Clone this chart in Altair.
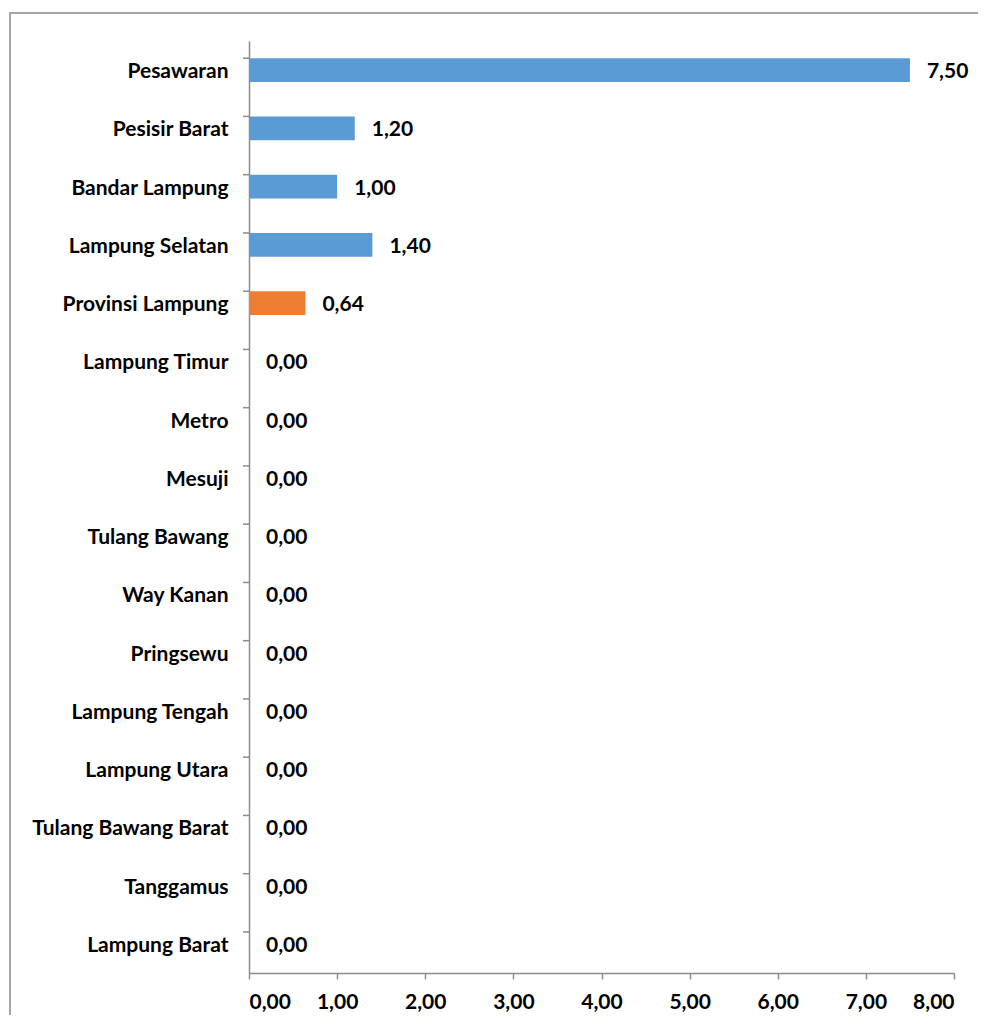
import altair as alt
import pandas as pd

categories = ["Pesawaran", "Pesisir Barat", "Bandar Lampung", "Lampung Selatan",
              "Provinsi Lampung", "Lampung Timur", "Metro", "Mesuji", "Tulang Bawang",
              "Way Kanan", "Pringsewu", "Lampung Tengah", "Lampung Utara",
              "Tulang Bawang Barat", "Tanggamus", "Lampung Barat"]
values = [7.50, 1.20, 1.00, 1.40, 0.64, 0.00, 0.00, 0.00, 0.00, 0.00, 0.00, 0.00,
          0.00, 0.00, 0.00, 0.00]
groups = ["kab", "kab", "kab", "kab", "prov"] + ["kab"] * 11

df = pd.DataFrame({"cat": categories, "val": values, "grp": groups})
df["lbl"] = df["val"].map(lambda v: f"{v:.2f}".replace(".", ","))

FONT = "Lato"
FS = 21
GRAY = "#8c8c8c"

y_enc = alt.Y("cat:N", sort=categories, title=None,
              scale=alt.Scale(paddingInner=0.59, paddingOuter=0.295),
              axis=alt.Axis(ticks=False, labelPadding=21, labelFont=FONT,
                            labelFontWeight="bold", labelFontSize=FS, labelColor="#000000",
                            domainColor=GRAY, domainWidth=1.5, labelLimit=300,
                            labelOffset=2))
x_enc = alt.X("val:Q", title=None,
              scale=alt.Scale(domain=[0, 8], nice=False),
              axis=alt.Axis(values=[0, 1, 2, 3, 4, 5, 6, 7, 8], grid=False,
                            labelExpr="replace(format(datum.value, '.2f'), '.', ',')",
                            labelFont=FONT, labelFontWeight="bold", labelFontSize=FS,
                            labelColor="#000000", domainColor=GRAY, domainWidth=1.5,
                            tickColor=GRAY, tickWidth=1.5, tickSize=6, labelPadding=12))

base = alt.Chart(df)

bars = base.mark_bar().encode(
    x=x_enc,
    y=y_enc,
    color=alt.Color("grp:N", scale=alt.Scale(domain=["kab", "prov"],
                                             range=["#5b9bd5", "#ed7d31"]), legend=None),
)

labels = base.mark_text(align="left", baseline="middle", dx=17, dy=2, font=FONT,
                        fontWeight="bold", fontSize=FS, color="#000000").encode(
    x="val:Q",
    y=alt.Y("cat:N", sort=categories),
    text="lbl:N",
)

yticks = base.mark_rule(color=GRAY, strokeWidth=1.5).encode(
    x=alt.value(-6), x2=alt.value(0),
    y=alt.Y("cat:N", sort=categories, bandPosition=0),
)

frame_left = base.mark_rule(color="#a6a6a6", strokeWidth=2, clip=False).encode(
    x=alt.value(-239), x2=alt.value(-239), y=alt.value(-29), y2=alt.value(1000),
)
frame_top = base.mark_rule(color="#a6a6a6", strokeWidth=2, clip=False).encode(
    x=alt.value(-240), x2=alt.value(800), y=alt.value(-28), y2=alt.value(-28),
)

chart = alt.layer(frame_left, frame_top, bars, labels, yticks).properties(
    width=705, height=932,
    padding={"left": 241, "top": 33, "right": 24, "bottom": 42},
    autosize=alt.AutoSizeParams(type="none"),
).configure_view(stroke=None)

chart.save("out.html", embed_options={"renderer": "svg", "actions": False})
